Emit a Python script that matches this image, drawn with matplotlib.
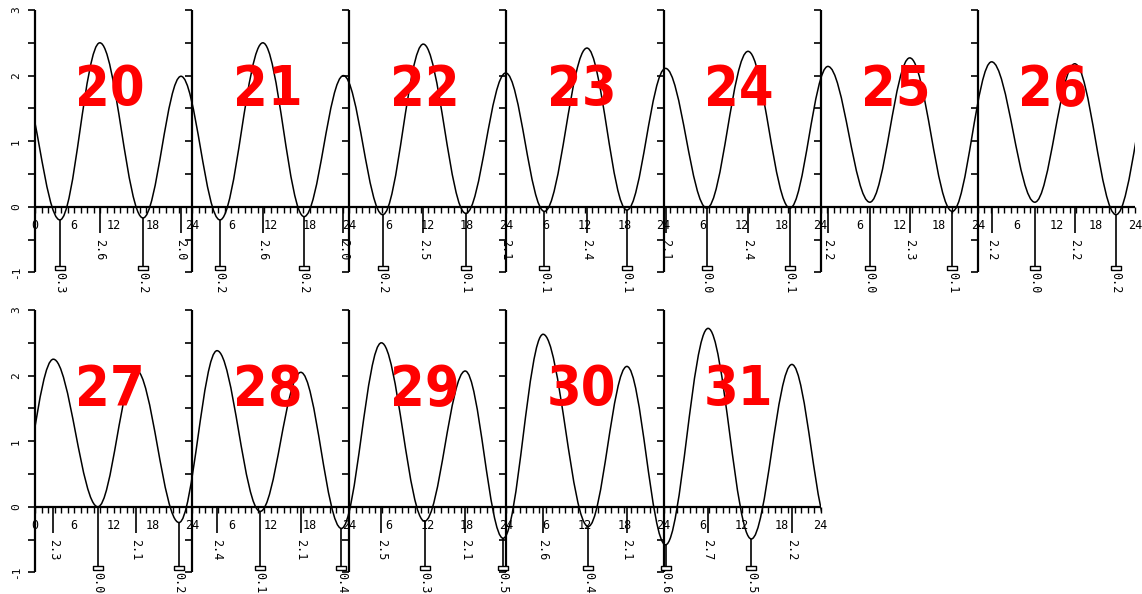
import matplotlib
matplotlib.use("Agg")
import matplotlib.pyplot as plt
from matplotlib import font_manager as fm
from matplotlib.path import Path
from matplotlib.patches import PathPatch

# ---- data: tide extremes, hours counted from the first day of each row ----
# row 1: days 20..26 ; first/last points lie off-chart so the curve enters/leaves correctly
days1 = [20, 21, 22, 23, 24, 25, 26]
t1 = [-2.4, 3.8, 9.9, 16.5, 22.3, 28.25, 34.8, 41.1, 47.1, 53.1, 59.3, 65.8, 71.9,
      77.8, 84.3, 90.4, 96.3, 102.6, 108.9, 115.3, 121.1, 127.5, 133.6, 140.1,
      146.1, 152.7, 158.8, 165.1, 171.3]
h1 = [2.0, -0.2, 2.5, -0.17, 1.99, -0.2, 2.5, -0.15, 2.0, -0.12, 2.48, -0.1, 2.04,
      -0.07, 2.42, -0.05, 2.11, -0.02, 2.37, -0.02, 2.14, 0.07, 2.27, -0.07,
      2.21, 0.07, 2.18, -0.12, 2.2]
lab1 = ["", "0.3", "2.6", "0.2", "2.0", "0.2", "2.6", "0.2", "2.0", "0.2", "2.5", "0.1", "2.1",
        "0.1", "2.4", "0.1", "2.1", "0.0", "2.4", "0.1", "2.2", "0.0", "2.3", "0.1",
        "2.2", "0.0", "2.2", "0.2", ""]

# row 2: days 27..31
days2 = [27, 28, 29, 30, 31]
t2 = [-3.5, 2.8, 9.6, 15.4, 22.0, 27.8, 34.4, 40.6, 46.8, 52.9, 59.5, 65.7, 71.5,
      77.6, 84.5, 90.4, 96.3, 102.8, 109.4, 115.6, 121.5]
h2 = [-0.25, 2.25, 0.0, 2.09, -0.24, 2.38, -0.07, 2.05, -0.33, 2.5, -0.22, 2.07, -0.48,
      2.63, -0.3, 2.14, -0.58, 2.72, -0.49, 2.17, -0.4]
lab2 = ["", "2.3", "0.0", "2.1", "0.2", "2.4", "0.1", "2.1", "0.4", "2.5", "0.3", "2.1", "0.5",
        "2.6", "0.4", "2.1", "0.6", "2.7", "0.5", "2.2", ""]

yticks = [-1, 0, 1, 2, 3]

fl = fm.fontManager.ttflist
names = {f.name for f in fl}
if "Liberation Sans Narrow" in names:
    BIG, BIG_STRETCH, BIG_SIZE = "Liberation Sans Narrow", "normal", 45
elif any(f.name == "DejaVu Sans" and f.stretch == "condensed" and f.weight in (700, "bold") for f in fl):
    BIG, BIG_STRETCH, BIG_SIZE = "DejaVu Sans", "condensed", 40
else:
    BIG, BIG_STRETCH, BIG_SIZE = "Liberation Sans", "normal", 40
SMALL = "DejaVu Sans Mono"

W, H = 1142, 594
PXH = 1100 / 168.0          # pixels per hour
PXU = 65.6                  # pixels per metre
fig = plt.figure(figsize=(W / 100, H / 100), dpi=100)
fig.patch.set_facecolor("white")


def tide_row(top_px, days, t, h, labels):
    nd = len(days)
    xmax = nd * 24
    ax = fig.add_axes([35 / W, (H - top_px - 4 * PXU) / H, xmax * PXH / W, 4 * PXU / H])
    ax.set_xlim(0, xmax)
    ax.set_ylim(-1, 3)
    ax.axis("off")

    # smooth curve: cubic Bezier between extremes (flat tangent at each extreme)
    k = 0.3634
    verts = [(t[0], h[0])]
    codes = [Path.MOVETO]
    for i in range(len(t) - 1):
        dt = t[i + 1] - t[i]
        verts += [(t[i] + k * dt, h[i]), (t[i + 1] - k * dt, h[i + 1]), (t[i + 1], h[i + 1])]
        codes += [Path.CURVE4] * 3
    ax.add_patch(PathPatch(Path(verts, codes), facecolor="none", edgecolor="black", lw=1.1))

    tk_x = 7 / PXH
    tk_y = 6 / PXU
    # day axes with half-metre ticks
    ax.vlines([d * 24 for d in range(nd)], -1, 3, color="black", lw=1.6, clip_on=False)
    for d in range(nd):
        ax.hlines([v / 2 for v in range(-2, 7)], d * 24 - tk_x, d * 24, color="black",
                  lw=1.2, clip_on=False)
    for v in yticks:
        ax.text(-19 / PXH, v, str(v), rotation=90, ha="center", va="center",
                fontsize=8, family=SMALL, clip_on=False)

    # time axis
    ax.hlines(0, 0, xmax, color="black", lw=1.6, clip_on=False)
    ax.vlines(range(0, xmax + 1), -tk_y, 0, color="black", lw=1.0, clip_on=False)
    for hr in range(0, xmax + 1, 6):
        txt = "0" if hr == 0 else str(hr % 24 or 24)
        ax.text(hr, -19 / PXU, txt, ha="center", va="center", fontsize=8.5,
                family=SMALL, clip_on=False)

    # extremes
    for ti, hi, lb in zip(t, h, labels):
        if not lb:
            continue
        if hi > 1:
            ax.vlines(ti, -0.4, 0, color="black", lw=1.2, clip_on=False)
            ax.text(ti, -0.66, lb, rotation=270, ha="center", va="center",
                    fontsize=8.5, family=SMALL, clip_on=False)
        else:
            ax.vlines(ti, -0.92, min(hi, 0), color="black", lw=1.2, clip_on=False)
            ax.plot(ti, -0.94, marker=[(-1, -0.45), (1, -0.45), (1, 0.45), (-1, 0.45), (-1, -0.45)],
                    ms=7, mfc="white", mec="black", mew=1.0, clip_on=False)
            ax.text(ti, -1.16, lb, rotation=270, ha="center", va="center",
                    fontsize=8.5, family=SMALL, clip_on=False)

    # big red day numbers
    for d, day in enumerate(days):
        ax.text(d * 24 + 11.5, 1.78, str(day), ha="center", va="center", color="#ff0000",
                fontsize=BIG_SIZE, fontweight="bold", family=BIG, fontstretch=BIG_STRETCH,
                clip_on=False)
    return ax


tide_row(10, days1, t1, h1, lab1)
tide_row(310, days2, t2, h2, lab2)

fig.savefig("out.png", dpi=100, facecolor="white")
